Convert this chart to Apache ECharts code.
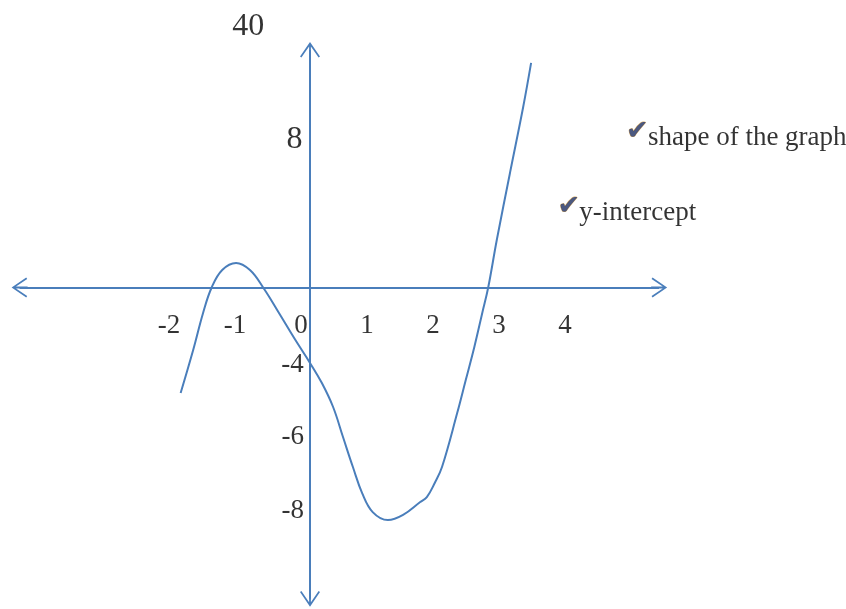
<!DOCTYPE html>
<html>
<head>
<meta charset="utf-8">
<script src="https://cdn.jsdelivr.net/npm/echarts@6/dist/echarts.min.js"></script>
<style>
  html, body { margin: 0; padding: 0; background: #fff; }
  #main { width: 846px; height: 609px; }
</style>
</head>
<body>
<div id="main"></div>
<script>
// sketched curve, x in "label units", y in sketch units (x axis at y = 0)
const curveX = [-1.96, -1.77, -1.62, -1.49, -1.33, -1.12, -0.91, -0.71, -0.47, -0.24, 0, 0.18, 0.35, 0.5, 0.65, 0.79, 0.95, 1.18, 1.41, 1.67, 1.77, 1.89, 2.0, 2.23, 2.36, 2.49, 2.61, 2.70, 2.83, 3.03, 3.23, 3.35];
const curveY = [-5.55, -3.29, -1.34, 0, 0.92, 1.29, 0.92, 0, -1.34, -2.66, -3.97, -5.03, -6.29, -7.87, -9.45, -10.82, -11.82, -12.24, -11.97, -11.29, -11.03, -10.29, -9.45, -6.61, -4.87, -3.13, -1.34, 0, 2.5, 6.03, 9.5, 11.82];

// x tick labels, written under the x axis
const xTickValues = [-2, -1, 0, 1, 2, 3, 4];

// hand placed y labels (text and where they sit)
const bigYLabels = ['40', '8'];
const bigYLabelAt = [[-0.935, 13.75], [-0.235, 7.81]];
const smallYLabels = ['-4', '-6', '-8'];
const smallYLabelAt = [[-0.265, -4.05], [-0.261, -7.86], [-0.261, -11.77]];

// notes on the right
const notes = ['shape of the graph', 'y-intercept'];
const noteAt = [[5.12, 7.87], [4.08, 3.92]];
const tickAt = [[4.96, 8.21], [3.92, 4.26]];

// extent of the two drawn axes
const hAxisSpan = [-4.4, 5.29];
const vAxisSpan = [12.5, -16.38];

const blue = '#4a7ebb';
const serif = 'Liberation Serif';
// open arrow head with a short shaft, pointing up
const arrowHead = 'path://M10,0 L20,14.6 L18.6,15.6 L10.9,4.4 L10.9,16 L9.1,16 L9.1,4.4 L1.4,15.6 L0,14.6 Z';

const chart = echarts.init(document.getElementById('main'));

function labelPoints (texts, pos) {
  return texts.map((t, i) => ({ value: pos[i], name: t }));
}

chart.setOption({
  animation: false,
  backgroundColor: '#fff',
  grid: {
    left: -20, width: 858, top: 2.5, height: 608,
    containLabel: false,
    outerBoundsMode: 'none'
  },
  xAxis: {
    type: 'value',
    min: -5,
    max: 8,
    show: false
  },
  yAxis: {
    type: 'value',
    min: -17,
    max: 15,
    show: false
  },
  series: [
    {
      name: 'curve',
      type: 'line',
      smooth: 0.4,
      showSymbol: false,
      silent: true,
      lineStyle: { color: blue, width: 2 },
      data: curveX.map((x, i) => [x, curveY[i]]),
      markLine: {
        silent: true,
        symbol: [arrowHead, arrowHead],
        symbolSize: [20, 16],
        label: { show: false },
        lineStyle: { color: blue, width: 2, type: 'solid' },
        data: [
          [{ coord: [hAxisSpan[0], 0] }, { coord: [hAxisSpan[1], 0] }],
          [{ coord: [0, vAxisSpan[0]] }, { coord: [0, vAxisSpan[1]] }]
        ]
      }
    },
    {
      name: 'xLabels',
      type: 'scatter',
      symbolSize: 0,
      silent: true,
      data: xTickValues.map(v => ({ value: [v, 0], name: String(v) })),
      label: {
        show: true, position: 'inside', offset: [-9, 38.5], formatter: '{b}',
        fontFamily: serif, fontSize: 27, color: '#000'
      }
    },
    {
      name: 'bigYLabels',
      type: 'scatter',
      symbolSize: 0,
      silent: true,
      data: labelPoints(bigYLabels, bigYLabelAt),
      label: {
        show: true, position: 'inside', formatter: '{b}',
        fontFamily: serif, fontSize: 32, color: '#000'
      }
    },
    {
      name: 'smallYLabels',
      type: 'scatter',
      symbolSize: 0,
      silent: true,
      data: labelPoints(smallYLabels, smallYLabelAt),
      label: {
        show: true, position: 'inside', formatter: '{b}',
        fontFamily: serif, fontSize: 27, color: '#000'
      }
    },
    {
      name: 'notes',
      type: 'scatter',
      symbolSize: 0,
      silent: true,
      data: labelPoints(notes, noteAt),
      label: {
        show: true, position: 'right', distance: 0, formatter: '{b}',
        fontFamily: serif, fontSize: 27, color: '#000'
      }
    },
    {
      name: 'ticks',
      type: 'scatter',
      symbolSize: 0,
      silent: true,
      data: labelPoints(['\u2714', '\u2714'], tickAt),
      label: {
        show: true, position: 'inside', formatter: '{b}',
        fontFamily: 'DejaVu Sans', fontSize: 27, color: '#1f3060',
        textBorderColor: '#c8913a', textBorderWidth: 0.8
      }
    }
  ]
});
</script>
</body>
</html>
